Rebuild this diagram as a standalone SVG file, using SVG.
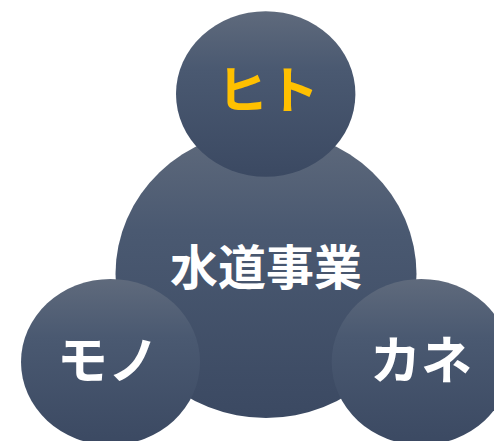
<svg xmlns="http://www.w3.org/2000/svg" width="494" height="441" viewBox="0 0 494 441">
<defs>
<linearGradient id="g" x1="0" y1="0" x2="0" y2="1">
<stop offset="0" stop-color="#5f6a7c"/>
<stop offset="0.35" stop-color="#4a5971"/>
<stop offset="1" stop-color="#3b4962"/>
</linearGradient>
<style>
.c{fill:url(#g);}
.t{font-family:"Noto Sans CJK JP","Noto Sans CJK SC",sans-serif;font-weight:bold;text-anchor:middle;fill:#ffffff;}
.k{font-size:51px;}
</style>
</defs>
<rect width="494" height="441" fill="#ffffff"/>
<g id="main">
<ellipse class="c" cx="266" cy="274" rx="150.5" ry="144"/>
<text class="t" x="266" y="285" font-size="48">水道事業</text>
</g>
<g id="hito">
<ellipse class="c" cx="265.7" cy="94" rx="89.7" ry="82.8"/>
<text class="t k" x="268" y="109" style="fill:#ffc000">ヒト</text>
</g>
<g id="mono">
<ellipse class="c" cx="110.5" cy="362" rx="89.5" ry="83"/>
<text class="t k" x="108" y="379">モノ</text>
</g>
<g id="kane">
<ellipse class="c" cx="421.2" cy="362" rx="89.5" ry="83"/>
<text class="t k" x="421" y="379">カネ</text>
</g>
<g id="connectors"></g>
</svg>
